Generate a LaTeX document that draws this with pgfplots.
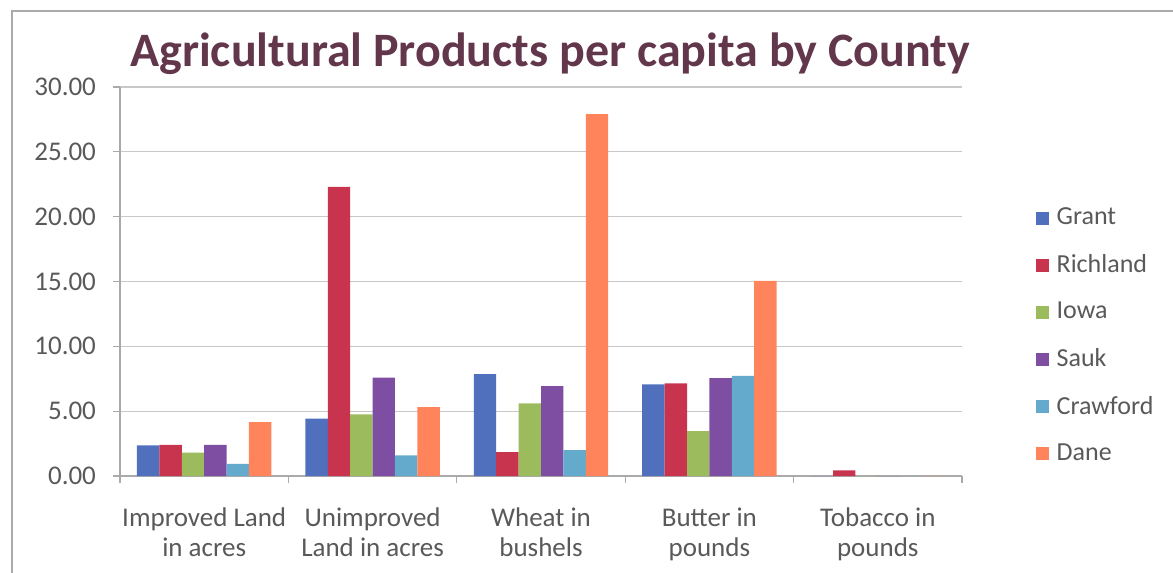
\documentclass[border=0pt]{standalone}
\usepackage{fontspec}
\setmainfont{Carlito}
\usepackage{pgfplots}
\pgfplotsset{compat=1.18}
\definecolor{cGrant}{RGB}{80,112,190}
\definecolor{cRichland}{RGB}{200,52,78}
\definecolor{cIowa}{RGB}{155,187,92}
\definecolor{cSauk}{RGB}{125,78,162}
\definecolor{cCrawford}{RGB}{100,170,205}
\definecolor{cDane}{RGB}{255,132,92}
\definecolor{txtgray}{RGB}{89,89,89}
\definecolor{titlecol}{RGB}{98,55,75}
\definecolor{gridcol}{RGB}{200,200,200}
\definecolor{axcol}{RGB}{170,170,170}
\begin{document}
\begin{tikzpicture}[x=1pt,y=1pt]
\useasboundingbox (-60,-48.5) rectangle (526.5,238);
\draw[axcol, line width=0.8pt] (-54,-48.5) -- (-54,232.5) -- (526.5,232.5);
\node[font=\fontsize{24}{28}\selectfont\bfseries, text=titlecol] at (215,211) {Agricultural Products per capita by County};
\begin{axis}[
  at={(0,0)}, anchor=south west,
  scale only axis, width=421pt, height=194.5pt,
  ymin=0, ymax=30, ytick={0,5,...,30},
  xmin=-0.5, xmax=4.5,
  xtick={-0.5,0.5,...,4.5}, xticklabels={},
  extra x ticks={0,1,2,3,4},
  extra x tick labels={Improved Land\\in acres, Unimproved\\Land in acres, Wheat in\\bushels, Butter in\\pounds, Tobacco in\\pounds},
  extra x tick style={major tick length=0pt, grid=none, tick label style={align=center, font=\fontsize{13.5}{15}\selectfont, text=txtgray, yshift=-12.5pt}},
  axis x line*=bottom, axis y line*=left,
  axis line style={draw=axcol, line width=0.6pt},
  tick align=outside, major tick length=3.5pt,
  tick style={draw=axcol, line width=0.6pt},
  ymajorgrids, grid style={draw=gridcol, line width=0.6pt},
  yticklabel style={font=\fontsize{13.5}{15}\selectfont, text=txtgray, xshift=-5pt, /pgf/number format/.cd, fixed, fixed zerofill, precision=2, assume math mode=true},
  ybar=0pt, bar width=11.2pt,
  legend style={at={(1.087,0.70)}, anchor=north west, draw=none, fill=none, font=\fontsize{13}{15}\selectfont, text=txtgray, row sep=9.3pt, inner sep=0pt, nodes={inner xsep=4pt}},
  legend cell align=left,
  legend image code/.code={\fill[#1] (0pt,-3.25pt) rectangle (6.5pt,3.25pt);},
]
\addplot[fill=cGrant, draw=none] coordinates {(0,2.37) (1,4.42) (2,7.85) (3,7.07) (4,0)};
\addplot[fill=cRichland, draw=none] coordinates {(0,2.40) (1,22.3) (2,1.85) (3,7.15) (4,0.44)};
\addplot[fill=cIowa, draw=none] coordinates {(0,1.80) (1,4.76) (2,5.61) (3,3.47) (4,0)};
\addplot[fill=cSauk, draw=none] coordinates {(0,2.40) (1,7.58) (2,6.94) (3,7.54) (4,0)};
\addplot[fill=cCrawford, draw=none] coordinates {(0,0.93) (1,1.60) (2,2.00) (3,7.72) (4,0)};
\addplot[fill=cDane, draw=none] coordinates {(0,4.15) (1,5.32) (2,27.9) (3,15.05) (4,0)};
\legend{Grant, Richland, Iowa, Sauk, Crawford, Dane}
\end{axis}
\end{tikzpicture}
\end{document}
